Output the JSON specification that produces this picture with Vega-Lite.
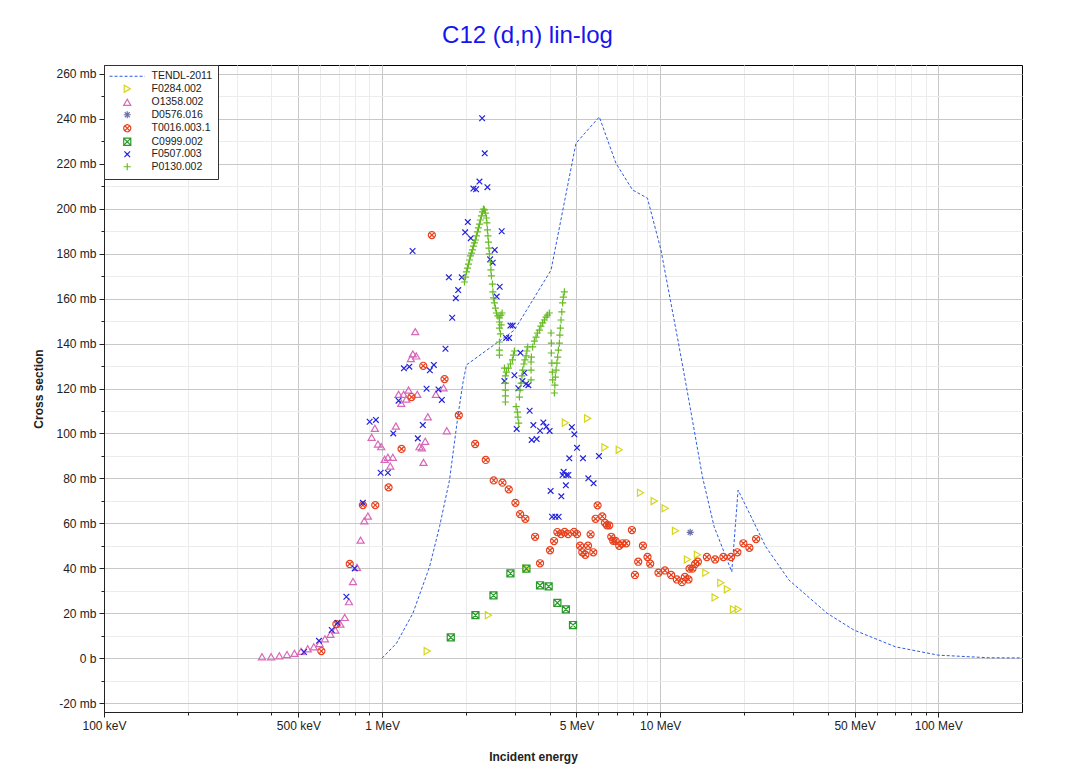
{
  "$schema": "https://vega.github.io/schema/vega-lite/v6.json",
  "width": 918,
  "height": 647,
  "autosize": {"type": "none"},
  "padding": {"left": 104, "top": 65, "right": 49, "bottom": 62},
  "background": "white",
  "title": {"text": "C12 (d,n) lin-log", "fontSize": 24, "font": "Liberation Sans", "fontWeight": "normal", "color": "#1515ee", "anchor": "middle", "frame": "bounds", "offset": 17},
  "config": {
    "view": {"stroke": "black", "strokeWidth": 1},
    "font": "Liberation Sans",
    "legend": {"orient": "top-left", "offset": 0, "padding": 6, "strokeColor": "#333", "fillColor": "white", "labelFont": "Liberation Sans", "labelFontSize": 10.5, "labelColor": "#222", "symbolSize": 50, "rowPadding": 0.5, "symbolOffset": 12, "labelOffset": 19, "symbolStrokeWidth": 1.2, "cornerRadius": 0}
  },
  "datasets": {
    "tendl": [
      {"series": "TENDL-2011", "E": 1.0, "s": 0},
      {"series": "TENDL-2011", "E": 1.125, "s": 6.5},
      {"series": "TENDL-2011", "E": 1.29, "s": 19.9},
      {"series": "TENDL-2011", "E": 1.481, "s": 40.6},
      {"series": "TENDL-2011", "E": 1.609, "s": 58.5},
      {"series": "TENDL-2011", "E": 1.748, "s": 79.3},
      {"series": "TENDL-2011", "E": 1.872, "s": 107.4},
      {"series": "TENDL-2011", "E": 1.951, "s": 122.3},
      {"series": "TENDL-2011", "E": 2.011, "s": 130.5},
      {"series": "TENDL-2011", "E": 2.991, "s": 146.0},
      {"series": "TENDL-2011", "E": 4.05, "s": 172.7},
      {"series": "TENDL-2011", "E": 4.98, "s": 229.2},
      {"series": "TENDL-2011", "E": 6.04, "s": 240.9},
      {"series": "TENDL-2011", "E": 6.93, "s": 220.3},
      {"series": "TENDL-2011", "E": 7.95, "s": 208.4},
      {"series": "TENDL-2011", "E": 9.0, "s": 204.7},
      {"series": "TENDL-2011", "E": 10.06, "s": 181.7},
      {"series": "TENDL-2011", "E": 11.7, "s": 138.6},
      {"series": "TENDL-2011", "E": 12.71, "s": 114.1},
      {"series": "TENDL-2011", "E": 14.19, "s": 80.7},
      {"series": "TENDL-2011", "E": 15.63, "s": 58.5},
      {"series": "TENDL-2011", "E": 18.09, "s": 38.4},
      {"series": "TENDL-2011", "E": 19.06, "s": 74.8},
      {"series": "TENDL-2011", "E": 23.96, "s": 49.6},
      {"series": "TENDL-2011", "E": 29.05, "s": 34.7},
      {"series": "TENDL-2011", "E": 39.9, "s": 19.9},
      {"series": "TENDL-2011", "E": 49.7, "s": 12.5},
      {"series": "TENDL-2011", "E": 70.2, "s": 5.0},
      {"series": "TENDL-2011", "E": 100, "s": 1.3},
      {"series": "TENDL-2011", "E": 151.8, "s": 0.15},
      {"series": "TENDL-2011", "E": 200, "s": 0.05}
    ],
    "exp": [
      {"series": "F0284.002", "E": 1.453, "s": 3.1},
      {"series": "F0284.002", "E": 2.412, "s": 19.1},
      {"series": "F0284.002", "E": 3.294, "s": 39.9},
      {"series": "F0284.002", "E": 4.56, "s": 104.8},
      {"series": "F0284.002", "E": 5.483, "s": 106.7},
      {"series": "F0284.002", "E": 6.33, "s": 93.8},
      {"series": "F0284.002", "E": 7.125, "s": 92.7},
      {"series": "F0284.002", "E": 8.5, "s": 73.6},
      {"series": "F0284.002", "E": 9.517, "s": 69.9},
      {"series": "F0284.002", "E": 10.42, "s": 66.7},
      {"series": "F0284.002", "E": 11.35, "s": 56.7},
      {"series": "F0284.002", "E": 12.53, "s": 43.9},
      {"series": "F0284.002", "E": 13.61, "s": 46.0},
      {"series": "F0284.002", "E": 14.59, "s": 38.0},
      {"series": "F0284.002", "E": 15.76, "s": 27.0},
      {"series": "F0284.002", "E": 16.52, "s": 33.5},
      {"series": "F0284.002", "E": 17.45, "s": 30.6},
      {"series": "F0284.002", "E": 18.34, "s": 21.7},
      {"series": "F0284.002", "E": 19.1, "s": 21.7},
      {"series": "O1358.002", "E": 0.37, "s": 0.6},
      {"series": "O1358.002", "E": 0.399, "s": 0.6},
      {"series": "O1358.002", "E": 0.427, "s": 1.0},
      {"series": "O1358.002", "E": 0.455, "s": 1.6},
      {"series": "O1358.002", "E": 0.484, "s": 2.1},
      {"series": "O1358.002", "E": 0.511, "s": 3.0},
      {"series": "O1358.002", "E": 0.54, "s": 4.1},
      {"series": "O1358.002", "E": 0.568, "s": 5.0},
      {"series": "O1358.002", "E": 0.596, "s": 6.5},
      {"series": "O1358.002", "E": 0.623, "s": 8.6},
      {"series": "O1358.002", "E": 0.652, "s": 10.6},
      {"series": "O1358.002", "E": 0.679, "s": 12.5},
      {"series": "O1358.002", "E": 0.708, "s": 15.1},
      {"series": "O1358.002", "E": 0.734, "s": 18.1},
      {"series": "O1358.002", "E": 0.76, "s": 25.1},
      {"series": "O1358.002", "E": 0.786, "s": 34.1},
      {"series": "O1358.002", "E": 0.812, "s": 40.4},
      {"series": "O1358.002", "E": 0.837, "s": 52.5},
      {"series": "O1358.002", "E": 0.863, "s": 61.1},
      {"series": "O1358.002", "E": 0.889, "s": 63.2},
      {"series": "O1358.002", "E": 0.917, "s": 98.3},
      {"series": "O1358.002", "E": 0.942, "s": 102.3},
      {"series": "O1358.002", "E": 0.966, "s": 95.3},
      {"series": "O1358.002", "E": 0.993, "s": 94.1},
      {"series": "O1358.002", "E": 1.021, "s": 88.5},
      {"series": "O1358.002", "E": 1.049, "s": 89.4},
      {"series": "O1358.002", "E": 1.07, "s": 85.5},
      {"series": "O1358.002", "E": 1.093, "s": 89.4},
      {"series": "O1358.002", "E": 1.121, "s": 103.3},
      {"series": "O1358.002", "E": 1.146, "s": 117.4},
      {"series": "O1358.002", "E": 1.172, "s": 113.4},
      {"series": "O1358.002", "E": 1.195, "s": 117.4},
      {"series": "O1358.002", "E": 1.222, "s": 115.3},
      {"series": "O1358.002", "E": 1.245, "s": 119.3},
      {"series": "O1358.002", "E": 1.269, "s": 133.3},
      {"series": "O1358.002", "E": 1.29, "s": 135.4},
      {"series": "O1358.002", "E": 1.316, "s": 145.3},
      {"series": "O1358.002", "E": 1.327, "s": 134.5},
      {"series": "O1358.002", "E": 1.338, "s": 117.4},
      {"series": "O1358.002", "E": 1.363, "s": 94.1},
      {"series": "O1358.002", "E": 1.39, "s": 93.6},
      {"series": "O1358.002", "E": 1.409, "s": 87.1},
      {"series": "O1358.002", "E": 1.429, "s": 96.5},
      {"series": "O1358.002", "E": 1.46, "s": 107.4},
      {"series": "O1358.002", "E": 1.561, "s": 117.4},
      {"series": "O1358.002", "E": 1.663, "s": 120.3},
      {"series": "O1358.002", "E": 1.709, "s": 101.2},
      {"series": "D0576.016", "E": 12.82, "s": 56.0},
      {"series": "T0016.003.1", "E": 0.605, "s": 3.1},
      {"series": "T0016.003.1", "E": 0.685, "s": 15.1},
      {"series": "T0016.003.1", "E": 0.765, "s": 41.9},
      {"series": "T0016.003.1", "E": 0.853, "s": 68.1},
      {"series": "T0016.003.1", "E": 0.945, "s": 68.1},
      {"series": "T0016.003.1", "E": 1.055, "s": 76.0},
      {"series": "T0016.003.1", "E": 1.175, "s": 93.1},
      {"series": "T0016.003.1", "E": 1.276, "s": 116.2},
      {"series": "T0016.003.1", "E": 1.406, "s": 130.1},
      {"series": "T0016.003.1", "E": 1.51, "s": 188.3},
      {"series": "T0016.003.1", "E": 1.677, "s": 124.2},
      {"series": "T0016.003.1", "E": 1.887, "s": 108.1},
      {"series": "T0016.003.1", "E": 2.161, "s": 95.3},
      {"series": "T0016.003.1", "E": 2.359, "s": 88.2},
      {"series": "T0016.003.1", "E": 2.52, "s": 79.1},
      {"series": "T0016.003.1", "E": 2.709, "s": 78.1},
      {"series": "T0016.003.1", "E": 2.854, "s": 75.1},
      {"series": "T0016.003.1", "E": 3.016, "s": 69.1},
      {"series": "T0016.003.1", "E": 3.135, "s": 64.1},
      {"series": "T0016.003.1", "E": 3.275, "s": 62.0},
      {"series": "T0016.003.1", "E": 3.549, "s": 54.0},
      {"series": "T0016.003.1", "E": 3.698, "s": 42.2},
      {"series": "T0016.003.1", "E": 4.017, "s": 48.0},
      {"series": "T0016.003.1", "E": 4.153, "s": 52.1},
      {"series": "T0016.003.1", "E": 4.268, "s": 56.1},
      {"series": "T0016.003.1", "E": 4.4, "s": 55.2},
      {"series": "T0016.003.1", "E": 4.533, "s": 56.2},
      {"series": "T0016.003.1", "E": 4.662, "s": 55.2},
      {"series": "T0016.003.1", "E": 4.899, "s": 56.2},
      {"series": "T0016.003.1", "E": 5.022, "s": 55.2},
      {"series": "T0016.003.1", "E": 5.149, "s": 50.0},
      {"series": "T0016.003.1", "E": 5.248, "s": 47.1},
      {"series": "T0016.003.1", "E": 5.38, "s": 46.0},
      {"series": "T0016.003.1", "E": 5.501, "s": 50.0},
      {"series": "T0016.003.1", "E": 5.62, "s": 55.1},
      {"series": "T0016.003.1", "E": 5.747, "s": 47.1},
      {"series": "T0016.003.1", "E": 5.857, "s": 62.0},
      {"series": "T0016.003.1", "E": 5.955, "s": 68.0},
      {"series": "T0016.003.1", "E": 6.19, "s": 63.1},
      {"series": "T0016.003.1", "E": 6.33, "s": 60.2},
      {"series": "T0016.003.1", "E": 6.436, "s": 59.1},
      {"series": "T0016.003.1", "E": 6.56, "s": 59.1},
      {"series": "T0016.003.1", "E": 6.67, "s": 54.0},
      {"series": "T0016.003.1", "E": 6.78, "s": 52.2},
      {"series": "T0016.003.1", "E": 6.91, "s": 52.2},
      {"series": "T0016.003.1", "E": 7.125, "s": 50.0},
      {"series": "T0016.003.1", "E": 7.321, "s": 51.1},
      {"series": "T0016.003.1", "E": 7.549, "s": 51.1},
      {"series": "T0016.003.1", "E": 7.913, "s": 57.0},
      {"series": "T0016.003.1", "E": 8.113, "s": 37.0},
      {"series": "T0016.003.1", "E": 8.337, "s": 42.9},
      {"series": "T0016.003.1", "E": 8.668, "s": 50.0},
      {"series": "T0016.003.1", "E": 9.003, "s": 45.0},
      {"series": "T0016.003.1", "E": 9.207, "s": 42.0},
      {"series": "T0016.003.1", "E": 9.86, "s": 38.0},
      {"series": "T0016.003.1", "E": 10.4, "s": 39.0},
      {"series": "T0016.003.1", "E": 10.95, "s": 37.0},
      {"series": "T0016.003.1", "E": 11.48, "s": 35.0},
      {"series": "T0016.003.1", "E": 11.97, "s": 33.8},
      {"series": "T0016.003.1", "E": 12.27, "s": 36.1},
      {"series": "T0016.003.1", "E": 12.64, "s": 35.0},
      {"series": "T0016.003.1", "E": 12.75, "s": 39.8},
      {"series": "T0016.003.1", "E": 13.06, "s": 39.8},
      {"series": "T0016.003.1", "E": 13.36, "s": 41.9},
      {"series": "T0016.003.1", "E": 13.66, "s": 42.9},
      {"series": "T0016.003.1", "E": 14.72, "s": 45.0},
      {"series": "T0016.003.1", "E": 15.76, "s": 43.9},
      {"series": "T0016.003.1", "E": 16.88, "s": 45.0},
      {"series": "T0016.003.1", "E": 17.98, "s": 45.0},
      {"series": "T0016.003.1", "E": 18.95, "s": 47.1},
      {"series": "T0016.003.1", "E": 19.91, "s": 51.1},
      {"series": "T0016.003.1", "E": 20.93, "s": 49.1},
      {"series": "T0016.003.1", "E": 22.12, "s": 53.0},
      {"series": "C0999.002", "E": 1.766, "s": 9.2},
      {"series": "C0999.002", "E": 2.166, "s": 19.1},
      {"series": "C0999.002", "E": 2.515, "s": 27.9},
      {"series": "C0999.002", "E": 2.894, "s": 37.7},
      {"series": "C0999.002", "E": 3.303, "s": 39.8},
      {"series": "C0999.002", "E": 3.698, "s": 32.4},
      {"series": "C0999.002", "E": 3.971, "s": 31.9},
      {"series": "C0999.002", "E": 4.268, "s": 24.6},
      {"series": "C0999.002", "E": 4.579, "s": 21.7},
      {"series": "C0999.002", "E": 4.859, "s": 14.7},
      {"series": "F0507.003", "E": 0.524, "s": 2.7},
      {"series": "F0507.003", "E": 0.593, "s": 7.7},
      {"series": "F0507.003", "E": 0.659, "s": 12.5},
      {"series": "F0507.003", "E": 0.691, "s": 15.7},
      {"series": "F0507.003", "E": 0.744, "s": 27.3},
      {"series": "F0507.003", "E": 0.797, "s": 39.9},
      {"series": "F0507.003", "E": 0.853, "s": 69.1},
      {"series": "F0507.003", "E": 0.902, "s": 105.2},
      {"series": "F0507.003", "E": 0.95, "s": 106.0},
      {"series": "F0507.003", "E": 0.988, "s": 82.5},
      {"series": "F0507.003", "E": 1.049, "s": 82.5},
      {"series": "F0507.003", "E": 1.097, "s": 100.0},
      {"series": "F0507.003", "E": 1.146, "s": 114.6},
      {"series": "F0507.003", "E": 1.198, "s": 129.0},
      {"series": "F0507.003", "E": 1.253, "s": 129.7},
      {"series": "F0507.003", "E": 1.287, "s": 181.2},
      {"series": "F0507.003", "E": 1.344, "s": 97.8},
      {"series": "F0507.003", "E": 1.401, "s": 103.7},
      {"series": "F0507.003", "E": 1.445, "s": 119.9},
      {"series": "F0507.003", "E": 1.485, "s": 128.1},
      {"series": "F0507.003", "E": 1.535, "s": 130.5},
      {"series": "F0507.003", "E": 1.595, "s": 119.6},
      {"series": "F0507.003", "E": 1.64, "s": 114.9},
      {"series": "F0507.003", "E": 1.69, "s": 137.7},
      {"series": "F0507.003", "E": 1.738, "s": 169.5},
      {"series": "F0507.003", "E": 1.787, "s": 151.5},
      {"series": "F0507.003", "E": 1.841, "s": 160.2},
      {"series": "F0507.003", "E": 1.878, "s": 163.8},
      {"series": "F0507.003", "E": 1.934, "s": 169.5},
      {"series": "F0507.003", "E": 1.989, "s": 189.5},
      {"series": "F0507.003", "E": 2.033, "s": 194.1},
      {"series": "F0507.003", "E": 2.084, "s": 186.9},
      {"series": "F0507.003", "E": 2.13, "s": 209.0},
      {"series": "F0507.003", "E": 2.178, "s": 208.7},
      {"series": "F0507.003", "E": 2.239, "s": 212.1},
      {"series": "F0507.003", "E": 2.289, "s": 240.3},
      {"series": "F0507.003", "E": 2.339, "s": 224.7},
      {"series": "F0507.003", "E": 2.392, "s": 209.6},
      {"series": "F0507.003", "E": 2.446, "s": 177.5},
      {"series": "F0507.003", "E": 2.499, "s": 176.0},
      {"series": "F0507.003", "E": 2.541, "s": 181.7},
      {"series": "F0507.003", "E": 2.583, "s": 160.9},
      {"series": "F0507.003", "E": 2.648, "s": 165.3},
      {"series": "F0507.003", "E": 2.692, "s": 190.0},
      {"series": "F0507.003", "E": 2.754, "s": 123.3},
      {"series": "F0507.003", "E": 2.793, "s": 142.5},
      {"series": "F0507.003", "E": 2.863, "s": 142.5},
      {"series": "F0507.003", "E": 2.894, "s": 148.0},
      {"series": "F0507.003", "E": 2.949, "s": 148.0},
      {"series": "F0507.003", "E": 2.991, "s": 125.9},
      {"series": "F0507.003", "E": 3.048, "s": 102.0},
      {"series": "F0507.003", "E": 3.091, "s": 120.1},
      {"series": "F0507.003", "E": 3.143, "s": 135.9},
      {"series": "F0507.003", "E": 3.195, "s": 123.3},
      {"series": "F0507.003", "E": 3.248, "s": 127.0},
      {"series": "F0507.003", "E": 3.294, "s": 122.0},
      {"series": "F0507.003", "E": 3.357, "s": 121.5},
      {"series": "F0507.003", "E": 3.393, "s": 110.1},
      {"series": "F0507.003", "E": 3.451, "s": 97.1},
      {"series": "F0507.003", "E": 3.499, "s": 103.7},
      {"series": "F0507.003", "E": 3.596, "s": 97.5},
      {"series": "F0507.003", "E": 3.698, "s": 101.2},
      {"series": "F0507.003", "E": 3.801, "s": 104.9},
      {"series": "F0507.003", "E": 3.896, "s": 103.0},
      {"series": "F0507.003", "E": 4.004, "s": 101.1},
      {"series": "F0507.003", "E": 4.037, "s": 74.4},
      {"series": "F0507.003", "E": 4.084, "s": 62.9},
      {"series": "F0507.003", "E": 4.198, "s": 62.9},
      {"series": "F0507.003", "E": 4.314, "s": 62.9},
      {"series": "F0507.003", "E": 4.411, "s": 72.0},
      {"series": "F0507.003", "E": 4.459, "s": 81.5},
      {"series": "F0507.003", "E": 4.496, "s": 82.9},
      {"series": "F0507.003", "E": 4.579, "s": 76.9},
      {"series": "F0507.003", "E": 4.6, "s": 81.5},
      {"series": "F0507.003", "E": 4.675, "s": 81.5},
      {"series": "F0507.003", "E": 4.712, "s": 88.9},
      {"series": "F0507.003", "E": 4.811, "s": 102.8},
      {"series": "F0507.003", "E": 4.912, "s": 99.6},
      {"series": "F0507.003", "E": 5.022, "s": 93.6},
      {"series": "F0507.003", "E": 5.278, "s": 88.9},
      {"series": "F0507.003", "E": 5.515, "s": 80.0},
      {"series": "F0507.003", "E": 5.762, "s": 77.8},
      {"series": "F0507.003", "E": 6.025, "s": 89.9},
      {"series": "P0130.002", "E": 1.978, "s": 167.4},
      {"series": "P0130.002", "E": 1.994, "s": 169.6},
      {"series": "P0130.002", "E": 2.011, "s": 171.9},
      {"series": "P0130.002", "E": 2.028, "s": 173.6},
      {"series": "P0130.002", "E": 2.045, "s": 175.4},
      {"series": "P0130.002", "E": 2.062, "s": 177.2},
      {"series": "P0130.002", "E": 2.079, "s": 179.0},
      {"series": "P0130.002", "E": 2.096, "s": 180.3},
      {"series": "P0130.002", "E": 2.113, "s": 181.7},
      {"series": "P0130.002", "E": 2.13, "s": 183.4},
      {"series": "P0130.002", "E": 2.148, "s": 184.8},
      {"series": "P0130.002", "E": 2.166, "s": 186.1},
      {"series": "P0130.002", "E": 2.184, "s": 187.9},
      {"series": "P0130.002", "E": 2.202, "s": 189.7},
      {"series": "P0130.002", "E": 2.22, "s": 191.5},
      {"series": "P0130.002", "E": 2.239, "s": 193.2},
      {"series": "P0130.002", "E": 2.257, "s": 195.0},
      {"series": "P0130.002", "E": 2.276, "s": 196.8},
      {"series": "P0130.002", "E": 2.295, "s": 198.6},
      {"series": "P0130.002", "E": 2.314, "s": 199.9},
      {"series": "P0130.002", "E": 2.333, "s": 199.5},
      {"series": "P0130.002", "E": 2.352, "s": 198.1},
      {"series": "P0130.002", "E": 2.372, "s": 195.9},
      {"series": "P0130.002", "E": 2.382, "s": 193.7},
      {"series": "P0130.002", "E": 2.392, "s": 190.6},
      {"series": "P0130.002", "E": 2.402, "s": 187.9},
      {"series": "P0130.002", "E": 2.412, "s": 185.2},
      {"series": "P0130.002", "E": 2.422, "s": 182.5},
      {"series": "P0130.002", "E": 2.432, "s": 179.9},
      {"series": "P0130.002", "E": 2.452, "s": 176.3},
      {"series": "P0130.002", "E": 2.462, "s": 172.8},
      {"series": "P0130.002", "E": 2.473, "s": 170.1},
      {"series": "P0130.002", "E": 2.493, "s": 166.5},
      {"series": "P0130.002", "E": 2.503, "s": 163.0},
      {"series": "P0130.002", "E": 2.514, "s": 160.3},
      {"series": "P0130.002", "E": 2.535, "s": 158.1},
      {"series": "P0130.002", "E": 2.556, "s": 155.8},
      {"series": "P0130.002", "E": 2.577, "s": 153.6},
      {"series": "P0130.002", "E": 2.609, "s": 152.3},
      {"series": "P0130.002", "E": 2.642, "s": 151.4},
      {"series": "P0130.002", "E": 2.675, "s": 152.7},
      {"series": "P0130.002", "E": 2.642, "s": 149.6},
      {"series": "P0130.002", "E": 2.642, "s": 146.9},
      {"series": "P0130.002", "E": 2.664, "s": 144.3},
      {"series": "P0130.002", "E": 2.642, "s": 140.7},
      {"series": "P0130.002", "E": 2.642, "s": 137.1},
      {"series": "P0130.002", "E": 2.642, "s": 134.9},
      {"series": "P0130.002", "E": 2.702, "s": 153.6},
      {"series": "P0130.002", "E": 2.679, "s": 148.3},
      {"series": "P0130.002", "E": 2.754, "s": 129.1},
      {"series": "P0130.002", "E": 2.776, "s": 125.6},
      {"series": "P0130.002", "E": 2.776, "s": 122.4},
      {"series": "P0130.002", "E": 2.776, "s": 119.3},
      {"series": "P0130.002", "E": 2.776, "s": 116.7},
      {"series": "P0130.002", "E": 2.776, "s": 114.0},
      {"series": "P0130.002", "E": 2.799, "s": 127.3},
      {"series": "P0130.002", "E": 2.846, "s": 129.1},
      {"series": "P0130.002", "E": 2.894, "s": 130.9},
      {"series": "P0130.002", "E": 2.942, "s": 132.7},
      {"series": "P0130.002", "E": 2.967, "s": 134.9},
      {"series": "P0130.002", "E": 2.991, "s": 136.7},
      {"series": "P0130.002", "E": 3.034, "s": 111.9},
      {"series": "P0130.002", "E": 3.066, "s": 109.5},
      {"series": "P0130.002", "E": 3.079, "s": 107.3},
      {"series": "P0130.002", "E": 3.099, "s": 104.6},
      {"series": "P0130.002", "E": 3.117, "s": 116.2},
      {"series": "P0130.002", "E": 3.13, "s": 119.3},
      {"series": "P0130.002", "E": 3.161, "s": 122.4},
      {"series": "P0130.002", "E": 3.182, "s": 125.6},
      {"series": "P0130.002", "E": 3.203, "s": 128.2},
      {"series": "P0130.002", "E": 3.235, "s": 130.9},
      {"series": "P0130.002", "E": 3.262, "s": 132.7},
      {"series": "P0130.002", "E": 3.294, "s": 134.5},
      {"series": "P0130.002", "E": 3.316, "s": 136.7},
      {"series": "P0130.002", "E": 3.338, "s": 138.5},
      {"series": "P0130.002", "E": 3.433, "s": 123.8},
      {"series": "P0130.002", "E": 3.433, "s": 128.2},
      {"series": "P0130.002", "E": 3.433, "s": 131.8},
      {"series": "P0130.002", "E": 3.442, "s": 134.0},
      {"series": "P0130.002", "E": 3.479, "s": 138.5},
      {"series": "P0130.002", "E": 3.528, "s": 141.1},
      {"series": "P0130.002", "E": 3.578, "s": 142.9},
      {"series": "P0130.002", "E": 3.617, "s": 144.7},
      {"series": "P0130.002", "E": 3.677, "s": 146.0},
      {"series": "P0130.002", "E": 3.723, "s": 147.8},
      {"series": "P0130.002", "E": 3.779, "s": 149.2},
      {"series": "P0130.002", "E": 3.833, "s": 150.5},
      {"series": "P0130.002", "E": 3.887, "s": 151.8},
      {"series": "P0130.002", "E": 3.929, "s": 152.7},
      {"series": "P0130.002", "E": 3.994, "s": 153.6},
      {"series": "P0130.002", "E": 4.051, "s": 144.7},
      {"series": "P0130.002", "E": 4.061, "s": 140.2},
      {"series": "P0130.002", "E": 4.061, "s": 135.8},
      {"series": "P0130.002", "E": 4.077, "s": 131.3},
      {"series": "P0130.002", "E": 4.094, "s": 127.3},
      {"series": "P0130.002", "E": 4.105, "s": 123.8},
      {"series": "P0130.002", "E": 4.164, "s": 118.0},
      {"series": "P0130.002", "E": 4.181, "s": 121.5},
      {"series": "P0130.002", "E": 4.198, "s": 125.1},
      {"series": "P0130.002", "E": 4.223, "s": 128.2},
      {"series": "P0130.002", "E": 4.251, "s": 131.3},
      {"series": "P0130.002", "E": 4.279, "s": 134.0},
      {"series": "P0130.002", "E": 4.304, "s": 137.1},
      {"series": "P0130.002", "E": 4.339, "s": 140.2},
      {"series": "P0130.002", "E": 4.357, "s": 143.8},
      {"series": "P0130.002", "E": 4.375, "s": 146.9},
      {"series": "P0130.002", "E": 4.4, "s": 150.5},
      {"series": "P0130.002", "E": 4.429, "s": 154.1},
      {"series": "P0130.002", "E": 4.459, "s": 158.1},
      {"series": "P0130.002", "E": 4.485, "s": 160.7},
      {"series": "P0130.002", "E": 4.522, "s": 163.0}
    ]
  },
  "layer": [
    {
      "data": {"name": "tendl"},
      "mark": {"type": "line", "strokeDash": [3, 2], "strokeWidth": 1, "clip": true},
      "encoding": {
        "x": {"field": "E", "type": "quantitative",
          "scale": {"type": "log", "domain": [0.1, 200], "nice": false},
          "axis": {"orient": "bottom", "values": [0.2, 0.3, 0.4, 0.6, 0.7, 0.8, 0.9, 2, 3, 4, 6, 7, 8, 9, 20, 30, 40, 60, 70, 80, 90], "labels": false, "grid": true, "gridColor": "#ececec", "gridWidth": 1, "tickSize": 3, "tickColor": "#222", "domain": false, "title": null}},
        "y": {"field": "s", "type": "quantitative",
          "scale": {"domain": [-24, 264], "nice": false, "zero": false},
          "axis": {"orient": "left", "values": [-10, 10, 30, 50, 70, 90, 110, 130, 150, 170, 190, 210, 230, 250], "labels": false, "grid": true, "gridColor": "#ececec", "gridWidth": 1, "tickSize": 3, "tickColor": "#222", "domain": false, "title": null}},
        "color": {"field": "series", "type": "nominal",
          "scale": {"domain": ["TENDL-2011", "F0284.002", "O1358.002", "D0576.016", "T0016.003.1", "C0999.002", "F0507.003", "P0130.002"],
                    "range": ["#2d5be3", "#d6d61a", "#d966b8", "#6a70a8", "#e8401c", "#2a9a2a", "#2222dd", "#66bb22"]},
          "legend": {"title": null}},
        "strokeDash": {"field": "series", "type": "nominal",
          "scale": {"domain": ["TENDL-2011", "F0284.002", "O1358.002", "D0576.016", "T0016.003.1", "C0999.002", "F0507.003", "P0130.002"],
                    "range": [[3, 2], [1, 0], [1, 0], [1, 0], [1, 0], [1, 0], [1, 0], [1, 0]]},
          "legend": {"title": null}}
      }
    },
    {
      "data": {"name": "exp"},
      "mark": {"type": "point", "filled": false, "size": 50, "strokeWidth": 1.2, "opacity": 1},
      "encoding": {
        "x": {"field": "E", "type": "quantitative",
          "axis": {"orient": "bottom", "values": [0.1, 0.5, 1, 5, 10, 50, 100],
            "labelExpr": "datum.value < 0.99 ? format(datum.value * 1000, 'd') + ' keV' : format(datum.value, 'd') + ' MeV'",
            "grid": true, "gridColor": "#c8c8c8", "gridWidth": 1, "tickSize": 5, "tickColor": "#222", "domainColor": "#222",
            "labelFont": "Liberation Sans", "labelFontSize": 12, "labelColor": "#222", "labelPadding": 3, "labelFlush": false, "labelOverlap": false,
            "title": "Incident energy", "titleFont": "Liberation Sans", "titleFontSize": 12, "titleFontWeight": "bold", "titleColor": "#222", "titlePadding": 20, "titleX": 429}},
        "y": {"field": "s", "type": "quantitative",
          "axis": {"orient": "left", "values": [-20, 0, 20, 40, 60, 80, 100, 120, 140, 160, 180, 200, 220, 240, 260],
            "labelExpr": "datum.value == 0 ? '0 b' : datum.value + ' mb'",
            "grid": true, "gridColor": "#c8c8c8", "gridWidth": 1, "tickSize": 5, "tickColor": "#222", "domainColor": "#222",
            "labelFont": "Liberation Sans", "labelFontSize": 12, "labelColor": "#222", "labelPadding": 3,
            "title": "Cross section", "titleFont": "Liberation Sans", "titleFontSize": 12, "titleFontWeight": "bold", "titleColor": "#222", "titlePadding": 10}},
        "color": {"field": "series", "type": "nominal", "legend": {"title": null}},
        "shape": {"field": "series", "type": "nominal",
          "scale": {"domain": ["TENDL-2011", "F0284.002", "O1358.002", "D0576.016", "T0016.003.1", "C0999.002", "F0507.003", "P0130.002"],
                    "range": ["M-5,0H5", "triangle-right", "triangle-up", "M0,-1V1M-1,0H1M-0.7,-0.7L0.7,0.7M-0.7,0.7L0.7,-0.7", "M-1,0A1,1,0,1,0,1,0A1,1,0,1,0,-1,0ZM-0.7,-0.7L0.7,0.7M-0.7,0.7L0.7,-0.7", "M-1,-1H1V1H-1ZM-1,-1L1,1M-1,1L1,-1", "M-0.8,-0.8L0.8,0.8M-0.8,0.8L0.8,-0.8", "M0,-1V1M-1,0H1"]},
          "legend": {"title": null}}
      }
    }
  ],
  "resolve": {"axis": {"x": "independent", "y": "independent"}}
}
